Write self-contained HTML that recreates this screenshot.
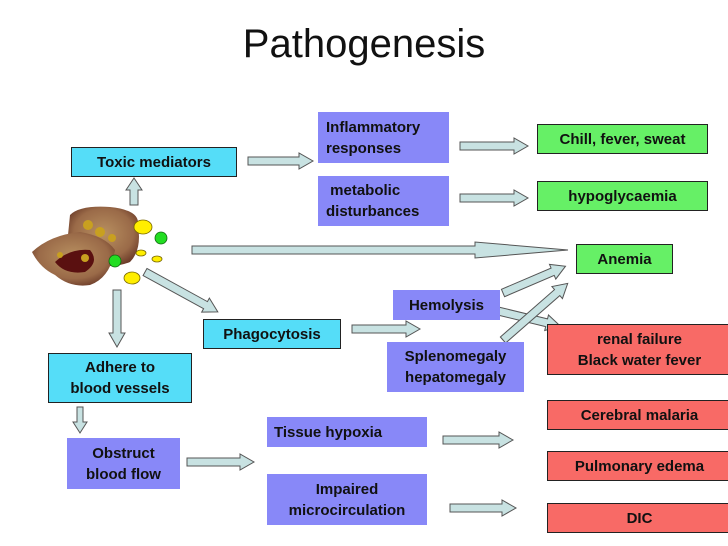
<!DOCTYPE html>
<html><head><meta charset="utf-8"><style>
body{margin:0;width:728px;height:546px;background:#fff;position:relative;overflow:hidden;font-family:"Liberation Sans",Arial,sans-serif}
.b{position:absolute;box-sizing:border-box;font-weight:bold;font-size:15px;line-height:21px;color:#111;display:flex;align-items:center;justify-content:center;text-align:center}
.c{background:#55ddf8;border:1.5px solid #222}
.p{background:#8888f8}
.g{background:#66f066;border:1.5px solid #222}
.r{background:#f86a66;border:1.5px solid #222}
svg{position:absolute;left:0;top:0}
</style></head><body>
<div style="position:absolute;left:0;width:728px;top:22px;text-align:center;font-size:40px;color:#111">Pathogenesis</div>
<svg width="728" height="546">
<defs><radialGradient id="cell" cx="50%" cy="45%" r="60%"><stop offset="0" stop-color="#b89060"/><stop offset="0.7" stop-color="#9a6a48"/><stop offset="1" stop-color="#6a3a28"/></radialGradient></defs>
<path d="M70 215 Q80 205 110 207 Q140 210 138 225 Q142 250 130 262 Q110 270 90 262 Q72 250 68 235Z" fill="url(#cell)"/>
<path d="M32 252 Q50 235 80 232 Q105 236 115 250 Q110 278 90 285 Q70 288 55 275 Q40 268 32 252Z" fill="url(#cell)"/>
<path d="M55 262 Q70 248 90 250 Q100 262 85 272 Q65 275 55 262Z" fill="#5a1010"/>
<circle cx="88" cy="225" r="5" fill="#c8a020"/><circle cx="100" cy="232" r="5" fill="#c8a020"/><circle cx="112" cy="238" r="4" fill="#c8a020"/><circle cx="85" cy="258" r="4" fill="#c8a020"/><circle cx="60" cy="255" r="3" fill="#c8a020"/>
<g fill="#ffee00" stroke="#776600" stroke-width="0.8"><ellipse cx="143" cy="227" rx="9" ry="7"/><ellipse cx="141" cy="253" rx="5" ry="3"/><ellipse cx="157" cy="259" rx="5" ry="3"/><ellipse cx="132" cy="278" rx="8" ry="6"/></g>
<g fill="#22dd22" stroke="#116611" stroke-width="0.8"><circle cx="161" cy="238" r="6"/><circle cx="115" cy="261" r="6"/></g>
<g fill="#c8e2e2" stroke="#555" stroke-width="1">
<polygon points="248,157 299,157 299,153 313,161 299,169 299,165 248,165"/>
<polygon points="460,142 514,142 514,138 528,146 514,154 514,150 460,150"/>
<polygon points="460,194 514,194 514,190 528,198 514,206 514,202 460,202"/>
<polygon points="192,246 475,246 475,242 568,250 475,258 475,254 192,254"/>
<polygon points="352,325 406,325 406,321 420,329 406,337 406,333 352,333"/>
<polygon points="187,458 240,458 240,454 254,462 240,470 240,466 187,466"/>
<polygon points="443,436 499,436 499,432 513,440 499,448 499,444 443,444"/>
<polygon points="450,504 502,504 502,500 516,508 502,516 502,512 450,512"/>
<g transform="translate(134,205) rotate(-90)"><polygon points="0,-4 15,-4 15,-8 27,0 15,8 15,4 0,4"/></g>
<g transform="translate(117,290) rotate(90)"><polygon points="0,-4 43,-4 43,-8 57,0 43,8 43,4 0,4"/></g>
<g transform="translate(80,407) rotate(90)"><polygon points="0,-3 15,-3 15,-7 26,0 15,7 15,3 0,3"/></g>
<g transform="translate(145,272) rotate(28.7)"><polygon points="0,-4 69,-4 69,-8 83,0 69,8 69,4 0,4"/></g>
<g transform="translate(503,293) rotate(-23.2)"><polygon points="0,-4 54,-4 54,-8 68,0 54,8 54,4 0,4"/></g>
<g transform="translate(498,311) rotate(13.6)"><polygon points="0,-4 50,-4 50,-8 64,0 50,8 50,4 0,4"/></g>
<g transform="translate(503,340) rotate(-41.2)"><polygon points="0,-4 72,-4 72,-8 86,0 72,8 72,4 0,4"/></g>
</g>
</svg>
<div class="b c" style="left:71px;top:147px;width:166px;height:30px">Toxic mediators</div>
<div class="b p" style="left:318px;top:112px;width:131px;height:51px;justify-content:flex-start;text-align:left;padding-left:8px">Inflammatory<br>responses</div>
<div class="b p" style="left:318px;top:176px;width:131px;height:50px;justify-content:flex-start;text-align:left;padding-left:8px">&nbsp;metabolic<br>disturbances</div>
<div class="b g" style="left:537px;top:124px;width:171px;height:30px">Chill, fever, sweat</div>
<div class="b g" style="left:537px;top:181px;width:171px;height:30px">hypoglycaemia</div>
<div class="b g" style="left:576px;top:244px;width:97px;height:30px">Anemia</div>
<div class="b p" style="left:393px;top:290px;width:107px;height:30px">Hemolysis</div>
<div class="b p" style="left:387px;top:342px;width:137px;height:50px">Splenomegaly<br>hepatomegaly</div>
<div class="b r" style="left:547px;top:324px;width:185px;height:51px">renal failure<br>Black water fever</div>
<div class="b c" style="left:203px;top:319px;width:138px;height:30px">Phagocytosis</div>
<div class="b c" style="left:48px;top:353px;width:144px;height:50px">Adhere to<br>blood vessels</div>
<div class="b p" style="left:67px;top:438px;width:113px;height:51px">Obstruct<br>blood flow</div>
<div class="b p" style="left:267px;top:417px;width:160px;height:30px;justify-content:flex-start;padding-left:7px">Tissue hypoxia</div>
<div class="b p" style="left:267px;top:474px;width:160px;height:51px">Impaired<br>microcirculation</div>
<div class="b r" style="left:547px;top:400px;width:185px;height:30px">Cerebral malaria</div>
<div class="b r" style="left:547px;top:451px;width:185px;height:30px">Pulmonary edema</div>
<div class="b r" style="left:547px;top:503px;width:185px;height:30px">DIC</div>
</body></html>
